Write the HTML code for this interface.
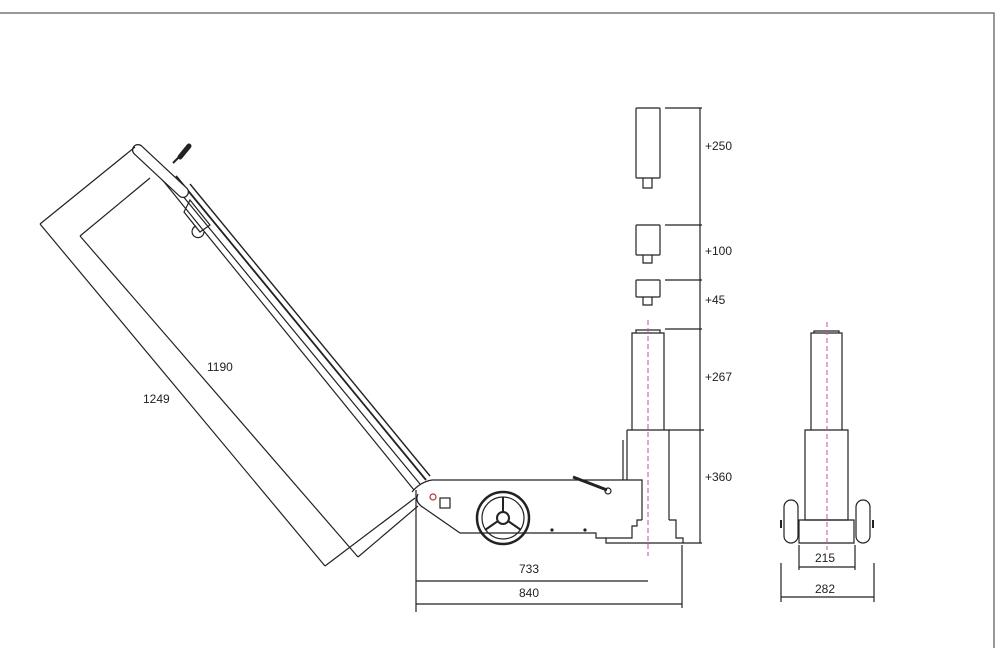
<!DOCTYPE html>
<html><head><meta charset="utf-8"><style>
html,body{margin:0;padding:0;background:#fff}
svg{display:block}
text{font-family:"Liberation Sans",sans-serif;font-size:12px;fill:#222}
</style></head><body>
<svg width="1000" height="648" viewBox="0 0 1000 648" xmlns="http://www.w3.org/2000/svg">
<g fill="none" stroke="#222" stroke-width="1.2">
<!-- frame -->
<path d="M0 13 H994 V648" stroke="#777" stroke-width="1.5"/>

<!-- handle -->
<path d="M156 172 L414 490"/>
<path d="M168 178 L420 484"/>
<path d="M176 176 L426 480" stroke-width="1.8"/>
<path d="M190 184 L430 476" stroke-width="1.4"/>
<path d="M138 150 L183 192" stroke="#222" stroke-width="12" stroke-linecap="round"/>
<path d="M138 150 L183 192" stroke="#fff" stroke-width="9.6" stroke-linecap="round"/>
<path d="M173 163 L181 155" stroke-width="2"/>
<path d="M180 157 L189 146" stroke-width="5" stroke-linecap="round"/>
<path d="M190 200 L210 225 L200 232 L184 212Z"/>
<path d="M196 226 a6 6 0 1 0 8 6"/>
<path d="M412 492 Q420 482 432 480"/>

<!-- dimension lines handle -->
<path d="M40 224 L325 566 M40 224 L135 147 M325 566 L415 498"/>
<path d="M80 236 L358 557 M80 236 L150 178 M358 557 L418 506"/>

<!-- base body -->
<path d="M432 480 H642 V520 M418 494 Q414 502 424 508 L460 533 H596 V538 H606"/>
<circle cx="433" cy="497" r="3" stroke="#a33"/>
<rect x="440" y="498" width="10" height="10"/>
<circle cx="503" cy="518" r="26" stroke-width="2.5"/>
<circle cx="503" cy="518" r="21"/>
<circle cx="503" cy="518" r="6" stroke-width="2"/>
<path d="M503 512 V497 M498 521 L485 530 M508 521 L521 530" stroke-width="2"/>
<circle cx="552" cy="530" r="1" fill="#222"/>
<circle cx="585" cy="530" r="1" fill="#222"/>
<path d="M573 477 L607 490" stroke-width="3"/>
<circle cx="608" cy="491" r="3"/>

<!-- cylinder side view -->
<path d="M627 430 H669 V520 M627 430 V480 M623 440 V480"/>
<path d="M642 520 H637 V526 H632 V538 H606 V543 H683 V538 H676 V520 H669"/>
<path d="M632 430 V333 H664 V430 M636 333 V330 H660 V333"/>
<!-- extensions -->
<rect x="636" y="108" width="24" height="70" rx="1"/>
<path d="M643 178 V188 H652 V178"/>
<rect x="636" y="225" width="24" height="30" rx="1"/>
<path d="M643 255 V263 H652 V255"/>
<rect x="636" y="280" width="24" height="17" rx="1"/>
<path d="M643 297 V305 H652 V297"/>
<!-- vertical dims -->
<path d="M700 108 V543"/>
<path d="M665 108 H702 M665 225 H702 M665 280 H702 M665 329 H702 M669 430 H704 M683 543 H702"/>

<!-- bottom dims -->
<path d="M416 490 V612 M682 545 V608 M416 581 H648 M416 604 H682"/>

<!-- front view -->
<path d="M811 430 V333 H842 V430 M814 333 V331 H839 V333"/>
<path d="M805 430 H848 V520 H805Z"/>
<path d="M799 520 H854 V543 H799Z"/>
<rect x="784" y="500" width="14" height="43" rx="7"/>
<rect x="856" y="500" width="14" height="43" rx="7"/>
<path d="M781 520 V528 M873 520 V528" stroke-width="2"/>
<path d="M799 545 V570 M855 545 V570 M799 567 H855"/>
<path d="M781 563 V602 M874 563 V602 M781 597 H874"/>
</g>
<g stroke="#c0509a" stroke-width="1" stroke-dasharray="5,3" fill="none">
<path d="M648 320 V556"/>
<path d="M827 322 V550"/>
</g>
<g>
<text x="705" y="150">+250</text>
<text x="705" y="255">+100</text>
<text x="705" y="304">+45</text>
<text x="705" y="381">+267</text>
<text x="705" y="481">+360</text>
<text x="207" y="371">1190</text>
<text x="143" y="403">1249</text>
<text x="519" y="573">733</text>
<text x="519" y="597">840</text>
<text x="815" y="562">215</text>
<text x="815" y="593">282</text>
</g>
</svg>
</body></html>
